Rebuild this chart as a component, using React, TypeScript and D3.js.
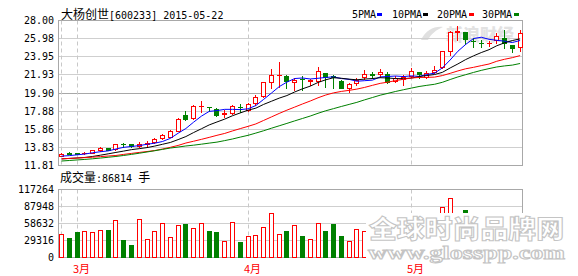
import React from "react";
import * as d3 from "d3";

const DATES = [
  "2015-02-26","2015-02-27",
  "2015-03-02","2015-03-03","2015-03-04","2015-03-05","2015-03-06","2015-03-09","2015-03-10","2015-03-11","2015-03-12","2015-03-13",
  "2015-03-16","2015-03-17","2015-03-18","2015-03-19","2015-03-20","2015-03-23","2015-03-24","2015-03-25","2015-03-26","2015-03-27",
  "2015-03-30","2015-03-31",
  "2015-04-01","2015-04-02","2015-04-03","2015-04-07","2015-04-08","2015-04-09","2015-04-10","2015-04-13","2015-04-14","2015-04-15",
  "2015-04-16","2015-04-17","2015-04-20","2015-04-21","2015-04-22","2015-04-23","2015-04-24","2015-04-27","2015-04-28","2015-04-29","2015-04-30",
  "2015-05-04","2015-05-05","2015-05-06","2015-05-07","2015-05-08","2015-05-11","2015-05-12","2015-05-13","2015-05-14","2015-05-15",
  "2015-05-18","2015-05-19","2015-05-20","2015-05-21","2015-05-22",
];

const OPEN = [12.86,13.2,13.2,13.16,13.24,13.53,13.76,13.62,14.24,14.18,13.99,14.18,14.39,14.84,14.99,15.67,17.5,17.16,18.42,18.37,18.1,17.57,17.62,18.39,17.99,18.8,19.55,21.15,21.86,21.83,21.15,21.49,21.23,21.27,22.11,21.77,21.23,20.41,20.97,21.65,22.03,21.99,22.03,21.29,21.46,21.8,22.2,21.72,22.2,22.83,24.59,26.76,26.72,25.76,25.53,25.46,25.78,26.0,25.21,24.99];
const HIGH = [13.22,13.27,13.24,13.33,13.56,13.87,13.81,14.22,14.27,14.22,14.42,14.5,14.84,15.29,15.75,17.08,17.91,18.54,18.99,18.37,18.23,17.99,18.54,18.65,18.82,19.67,21.12,22.57,23.42,21.86,21.57,21.83,21.46,22.83,22.12,21.91,21.35,20.97,21.54,22.46,22.2,22.57,22.23,21.8,21.91,22.72,22.29,22.35,22.95,24.65,26.83,27.4,26.76,26.0,25.84,25.72,26.61,26.95,25.27,26.95];
const LOW = [12.82,13.05,13.05,13.11,13.2,13.42,13.5,13.58,13.84,13.9,13.84,13.87,14.33,14.78,14.95,15.63,16.86,17.05,17.8,17.88,17.31,17.23,17.54,17.8,17.93,18.54,19.5,20.47,20.61,20.47,20.29,20.29,20.78,20.78,20.59,20.41,20.41,20.04,20.78,21.46,21.61,21.72,21.01,21.12,20.78,21.69,21.54,21.61,22.12,22.69,24.14,25.84,25.38,24.99,25.04,25.16,25.5,24.9,24.51,24.59];
const CLOSE = [13.13,13.13,13.13,13.24,13.5,13.76,13.58,14.18,14.2,13.95,14.24,14.31,14.81,15.18,15.67,17.05,16.97,18.42,18.48,18.31,17.5,17.65,18.42,18.31,18.73,19.41,21.09,21.91,21.95,21.27,21.35,21.43,21.35,22.35,21.72,21.69,20.47,20.89,21.35,21.99,21.95,22.27,21.18,21.61,21.69,22.35,21.99,22.15,22.46,24.59,26.76,26.87,25.95,25.69,25.46,25.53,26.3,25.44,24.93,26.61];
const VOLUME = [39950,33530,43950,45160,44500,46900,46900,65480,29530,20840,67220,32480,45160,60270,35960,55580,57320,51590,60270,45160,43430,29010,62010,26060,37000,39430,53330,75910,41170,45160,55580,36480,32480,60270,45160,57320,36480,27790,49850,45680,50000,55000,60000,48000,52000,65000,58000,50000,62000,87370,101960,72000,81640,60000,48000,42000,55000,65000,50000,70000];

const MA5 = [12.86,12.91,13.0,13.09,13.23,13.35,13.44,13.65,13.84,13.93,14.03,14.18,14.3,14.49,14.84,15.41,15.94,16.65,17.32,17.85,17.94,18.08,18.08,18.05,18.14,18.5,19.19,19.89,20.61,21.12,21.52,21.58,21.47,21.55,21.64,21.71,21.52,21.43,21.22,21.28,21.34,21.7,21.75,21.8,21.74,21.82,21.76,21.97,22.12,22.71,23.59,24.57,25.33,25.98,26.13,25.9,25.79,25.69,25.54,25.77];
const MA10 = [12.54,12.6,12.65,12.71,12.82,12.96,13.11,13.27,13.42,13.58,13.69,13.81,13.98,14.18,14.38,14.7,15.04,15.49,15.91,16.34,16.67,16.99,17.37,17.68,17.99,18.21,18.63,18.98,19.33,19.62,20.02,20.37,20.67,21.08,21.38,21.61,21.55,21.45,21.38,21.46,21.52,21.61,21.58,21.51,21.51,21.57,21.73,21.86,21.97,22.21,22.7,23.15,23.64,24.05,24.42,24.74,25.18,25.51,25.76,25.95];
const MA20 = [12.56,12.6,12.64,12.69,12.74,12.8,12.87,12.93,13.05,13.16,13.27,13.37,13.48,13.65,13.84,14.05,14.32,14.52,14.73,14.95,15.18,15.39,15.67,15.93,16.18,16.45,16.84,17.23,17.62,17.99,18.33,18.68,19.01,19.37,19.68,19.92,20.08,20.2,20.34,20.53,20.76,20.98,21.12,21.29,21.44,21.58,21.64,21.65,21.68,21.85,22.1,22.37,22.61,22.77,22.96,23.14,23.45,23.67,23.85,24.08];
const MA30 = [12.31,12.37,12.43,12.49,12.56,12.64,12.73,12.82,12.93,13.05,13.18,13.32,13.46,13.61,13.76,13.87,13.99,14.08,14.19,14.31,14.42,14.59,14.77,14.98,15.18,15.43,15.69,15.97,16.24,16.51,16.79,17.06,17.33,17.64,17.92,18.16,18.4,18.63,18.86,19.14,19.4,19.66,19.87,20.08,20.27,20.45,20.63,20.76,20.88,21.1,21.41,21.7,21.95,22.2,22.43,22.63,22.81,22.93,23.02,23.2];

const PRICE_TICKS = [28.0, 25.98, 23.95, 21.93, 19.9, 17.88, 15.86, 13.83, 11.81];
const VOL_TICKS = [117264, 87948, 58632, 29316, 0];
const MONTH_MARKS = [
  { date: "2015-02-26", label: "" },
  { date: "2015-03-02", label: "3月" },
  { date: "2015-04-01", label: "4月" },
  { date: "2015-05-04", label: "5月" },
];
const TITLE_NAME = "大杨创世";
const TITLE_CODE = "[600233] 2015-05-22";
const LAST_VOLUME = 86814;
const LEGEND = [
  { label: "5PMA", color: "#0000ff", data: MA5 },
  { label: "10PMA", color: "#000000", data: MA10 },
  { label: "20PMA", color: "#ff0000", data: MA20 },
  { label: "30PMA", color: "#008000", data: MA30 },
];

const CJK = '"Noto Sans CJK SC", sans-serif';
const MONO = '"DejaVu Sans Mono", monospace';
const RED = "#ff0000";
const GREEN = "#008000";

export default function App() {
  const left = 58.5, right = 522.5;
  const x = d3.scalePoint<string>().domain(DATES).range([61, 519.6]);
  const y = d3.scaleLinear().domain([11.81, 28]).range([165.5, 20.5]);
  const yv = d3.scaleLinear().domain([0, 117264]).range([257.5, 189.5]);
  const cx = (i: number) => Math.round(x(DATES[i]) as number);
  const crisp = (v: number) => Math.floor(v) + 0.5;

  const line = d3
    .line<number>()
    .x((_, i) => (x(DATES[i]) as number) + 0.5)
    .y((v) => y(v));

  const legendX = [352, 392, 437, 482];
  const legendSq = [377, 423, 469, 514];

  return (
    <svg
      width={578}
      height={276}
      style={{ position: "absolute", left: 0, top: 0, background: "#fff" }}
    >
      <rect x={0} y={0} width={578} height={276} fill="#fff" />
      {/* faint logo watermark */}
      <g>
        <path d="M421,40 C426,30 434,26 443,27 C436,30 431,34 428,40 Z" fill="#e0e0e0" />
        <text x={446} y={41} fontFamily={CJK} fontWeight={900} fontSize={17} fill="#e2e2e2">
          新浪财经
        </text>
      </g>
      {/* main grid */}
      {PRICE_TICKS.map((t, k) => (
        <line
          key={"g" + k}
          x1={left}
          x2={right}
          y1={crisp(y(t))}
          y2={crisp(y(t))}
          stroke={k === 4 ? "#a8a8a8" : "#cfcfcf"}
          strokeWidth={1}
        />
      ))}
      {VOL_TICKS.map((t, k) => (
        <line
          key={"vg" + k}
          x1={left}
          x2={right}
          y1={crisp(yv(t))}
          y2={crisp(yv(t))}
          stroke="#cfcfcf"
        />
      ))}
      {MONTH_MARKS.map((m, k) => {
        const xx = Math.round(x(m.date) as number) + 0.5;
        return (
          <g key={"m" + k}>
            <line x1={xx} x2={xx} y1={20.5} y2={165.5} stroke="#c8c8c8" strokeDasharray="4,3" />
            <line x1={xx} x2={xx} y1={189.5} y2={257.5} stroke="#c8c8c8" strokeDasharray="4,3" />
          </g>
        );
      })}
      {/* borders */}
      <rect x={left} y={20.5} width={right - left} height={145} fill="none" stroke="#a8a8a8" />
      <rect x={left} y={189.5} width={right - left} height={68} fill="none" stroke="#a8a8a8" />

      {/* candles */}
      {DATES.map((d, i) => {
        const o = OPEN[i], c = CLOSE[i], h = HIGH[i], l = LOW[i];
        const up = c >= o;
        const color = up ? RED : GREEN;
        const xc = cx(i);
        const yTop = Math.round(y(Math.max(o, c)));
        const yBot = Math.round(y(Math.min(o, c)));
        let body;
        if (yBot - yTop < 1) {
          body = <line x1={xc - 2} x2={xc + 3} y1={yTop + 0.5} y2={yTop + 0.5} stroke={color} />;
        } else if (up) {
          body = (
            <rect x={xc - 1.5} y={yTop + 0.5} width={4} height={yBot - yTop} fill="#fff" stroke={color} />
          );
        } else {
          body = <rect x={xc - 2} y={yTop} width={5} height={yBot - yTop + 1} fill={color} />;
        }
        return (
          <g key={d} shapeRendering="crispEdges">
            <line
              x1={xc + 0.5}
              x2={xc + 0.5}
              y1={Math.round(y(h))}
              y2={Math.round(y(l)) + 1}
              stroke={color}
            />
            {body}
          </g>
        );
      })}
      {/* moving averages */}
      {LEGEND.map((s) => (
        <path key={s.label} d={line(s.data) || ""} fill="none" stroke={s.color} strokeWidth={1} />
      ))}

      {/* volume bars */}
      {DATES.map((d, i) => {
        const up = CLOSE[i] >= OPEN[i];
        const xc = cx(i);
        const top = Math.round(yv(VOLUME[i]));
        return up ? (
          <rect
            key={"v" + d}
            x={xc - 1.5}
            y={top + 0.5}
            width={4}
            height={257 - top}
            fill="#fff"
            stroke={RED}
            shapeRendering="crispEdges"
          />
        ) : (
          <rect
            key={"v" + d}
            x={xc - 2}
            y={top}
            width={5}
            height={258 - top}
            fill={GREEN}
            shapeRendering="crispEdges"
          />
        );
      })}

      {/* title */}
      <text x={61} y={19} fontSize={12} fill="#000">
        <tspan fontFamily={CJK}>{TITLE_NAME}</tspan>
        <tspan fontFamily={MONO} fontSize={10}>{TITLE_CODE}</tspan>
      </text>
      {/* legend */}
      {LEGEND.map((s, k) => (
        <g key={"lg" + k}>
          <text x={legendX[k]} y={18} fontFamily={MONO} fontSize={10} fill="#000">
            {s.label}
          </text>
          <rect x={legendSq[k]} y={13} width={5} height={3} fill={s.color} />
        </g>
      ))}
      {/* price labels */}
      {PRICE_TICKS.map((t, k) => (
        <text
          key={"pl" + k}
          x={54}
          y={crisp(y(t)) + 3}
          textAnchor="end"
          fontFamily={MONO}
          fontSize={10}
          fill="#000"
        >
          {t.toFixed(2)}
        </text>
      ))}
      {/* volume label */}
      <text x={60} y={182} fontSize={12} fill="#000">
        <tspan fontFamily={CJK}>成交量</tspan>
        <tspan fontFamily={MONO} fontSize={10}>{":" + LAST_VOLUME + " "}</tspan>
        <tspan fontFamily={CJK}>手</tspan>
      </text>
      {VOL_TICKS.map((t, k) => (
        <text
          key={"vl" + k}
          x={54}
          y={crisp(yv(t)) + 3}
          textAnchor="end"
          fontFamily={MONO}
          fontSize={10}
          fill="#000"
        >
          {String(t)}
        </text>
      ))}
      {/* month labels */}
      {MONTH_MARKS.filter((m) => m.label).map((m, k) => (
        <text
          key={"ml" + k}
          x={Math.round(x(m.date) as number) - 4}
          y={273}
          fontFamily={CJK}
          fontSize={11}
          fill={RED}
        >
          {m.label}
        </text>
      ))}

      {/* bottom watermark */}
      <rect x={366} y={213} width={200} height={51} fill="#fff" />
      <text
        x={369}
        y={238}
        fontFamily={CJK}
        fontWeight={900}
        fontSize={25}
        fill="#fff"
        stroke="#c4c4c4"
        strokeWidth={1}
        textLength={195}
        lengthAdjust="spacingAndGlyphs"
      >
        全球时尚品牌网
      </text>
      <text
        x={368}
        y={259}
        fontFamily='"Liberation Serif", serif'
        fontWeight={700}
        fontSize={19}
        fill="#fff"
        stroke="#c4c4c4"
        strokeWidth={1}
        textLength={197}
        lengthAdjust="spacingAndGlyphs"
      >
        www.glosspp.com
      </text>
    </svg>
  );
}
